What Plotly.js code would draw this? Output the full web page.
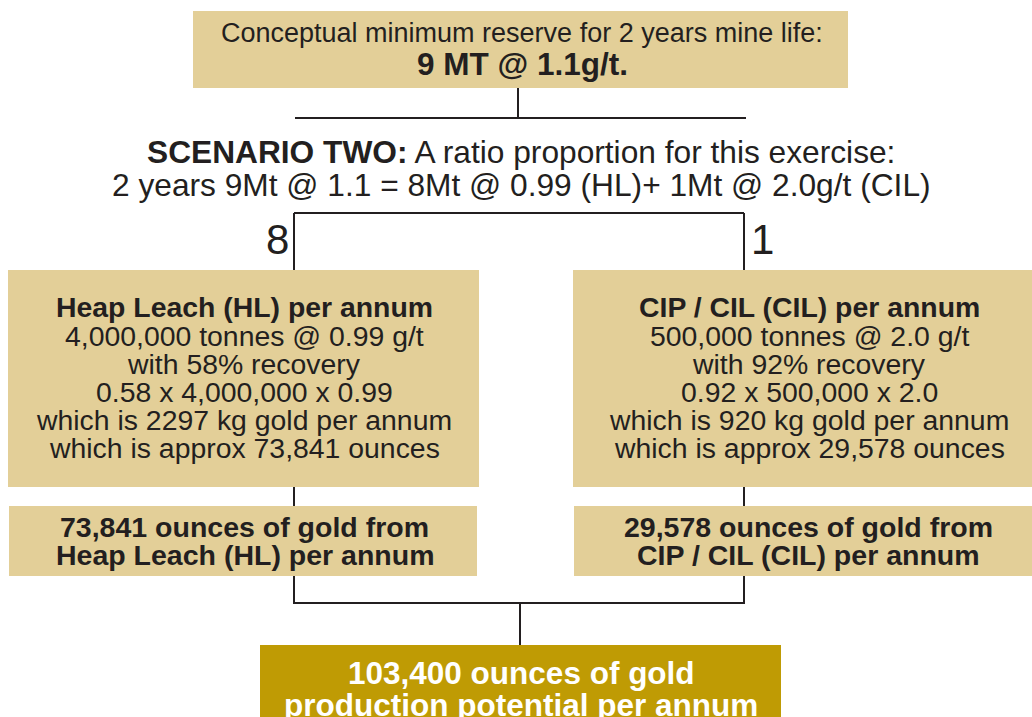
<!DOCTYPE html>
<html>
<head>
<meta charset="utf-8">
<script src="https://cdn.plot.ly/plotly-3.0.1.min.js"></script>
<style>html,body{margin:0;padding:0;background:#fff;}#chart{width:1032px;height:717px;}</style>
</head>
<body>
<div id="chart"></div>
<script>
// ---- content (text data) ----
var topLines = ["Conceptual minimum reserve for 2 years mine life:", "<b>9 MT @ 1.1g/t.</b>"];
var scenarioLines = ["<b>SCENARIO TWO:</b> A ratio proportion for this exercise:", "2 years 9Mt @ 1.1 = 8Mt @ 0.99 (HL)+ 1Mt @ 2.0g/t (CIL)"];
var ratioLabels = ["8", "1"];
var hlLines = ["<b>Heap Leach (HL) per annum</b>", "4,000,000 tonnes @ 0.99 g/t", "with 58% recovery", "0.58 x 4,000,000 x 0.99", "which is 2297 kg gold per annum", "which is approx 73,841 ounces"];
var cilLines = ["<b>CIP / CIL (CIL) per annum</b>", "500,000 tonnes @ 2.0 g/t", "with 92% recovery", "0.92 x 500,000 x 2.0", "which is 920 kg gold per annum", "which is approx 29,578 ounces"];
var hlTotalLines = ["<b>73,841 ounces of gold from</b>", "<b>Heap Leach (HL) per annum</b>"];
var cilTotalLines = ["<b>29,578 ounces of gold from</b>", "<b>CIP / CIL (CIL) per annum</b>"];
var totalLines = ["<b>103,400 ounces of gold</b>", "<b>production potential per annum</b>"];

// ---- geometry & styles ----
var LIGHT = "#e3cf98", DARK = "#bf9b04", INK = "#231f20";
var FONT = "Liberation Sans, Arial, Helvetica, sans-serif";

var boxes = [
  {x0:193, x1:848, y0:11, y1:88, c:LIGHT},
  {x0:8, x1:479, y0:270, y1:487, c:LIGHT},
  {x0:573, x1:1032, y0:270, y1:487, c:LIGHT},
  {x0:9, x1:477, y0:506, y1:576, c:LIGHT},
  {x0:574, x1:1032, y0:506, y1:576, c:LIGHT},
  {x0:260, x1:781, y0:645, y1:740, c:DARK}
];
var lines = [
  [518, 88, 518, 117],
  [295, 118, 746, 118],
  [294, 213, 744, 213],
  [294, 213, 294, 270],
  [744, 213, 744, 270],
  [294, 487, 294, 506],
  [744, 487, 744, 506],
  [294, 576, 294, 603],
  [744, 576, 744, 603],
  [293, 603, 745, 603],
  [520, 603, 520, 645]
];

var shapes = [];
boxes.forEach(function(b){
  shapes.push({type:"rect", xref:"x", yref:"y", x0:b.x0, x1:b.x1, y0:b.y0, y1:b.y1, fillcolor:b.c, line:{width:0}, layer:"below"});
});
lines.forEach(function(l){
  shapes.push({type:"line", xref:"x", yref:"y", x0:l[0], y0:l[1], x1:l[2], y1:l[3], line:{color:INK, width:2}});
});

var annotations = [];
function addLines(arr, cx, ys, sizes, color){
  arr.forEach(function(t, i){
    annotations.push({xref:"x", yref:"y", x:cx, y:ys[i], text:t, showarrow:false,
      xanchor:"center", yanchor:"middle",
      font:{family:FONT, size:(Array.isArray(sizes) ? sizes[i] : sizes), color:color}});
  });
}
addLines(topLines, 522, [33, 64], [27, 31.5], INK);
addLines(scenarioLines, 521, [152, 185], 31.7, INK);
addLines([ratioLabels[0]], 277, [239], 42, INK);
addLines([ratioLabels[1]], 762, [239], 42, INK);
var boxYs = [307, 336, 364, 392, 420, 448];
addLines(hlLines, 244, boxYs, 28.4, INK);
addLines(cilLines, 809, boxYs, 28.4, INK);
addLines(hlTotalLines, 244.5, [527, 555], 28.5, INK);
addLines(cilTotalLines, 808, [527, 555], 28.5, INK);
addLines(totalLines, 521, [673, 705], 31.5, "#ffffff");

var layout = {
  width:1032, height:717,
  margin:{l:0, r:0, t:0, b:0, pad:0},
  paper_bgcolor:"#ffffff", plot_bgcolor:"#ffffff",
  xaxis:{range:[0,1032], visible:false, fixedrange:true},
  yaxis:{range:[717,0], visible:false, fixedrange:true},
  showlegend:false,
  shapes:shapes,
  annotations:annotations
};
Plotly.newPlot("chart", [{x:[], y:[], type:"scatter", mode:"markers", hoverinfo:"skip"}], layout, {displayModeBar:false, staticPlot:true});
</script>
</body>
</html>
